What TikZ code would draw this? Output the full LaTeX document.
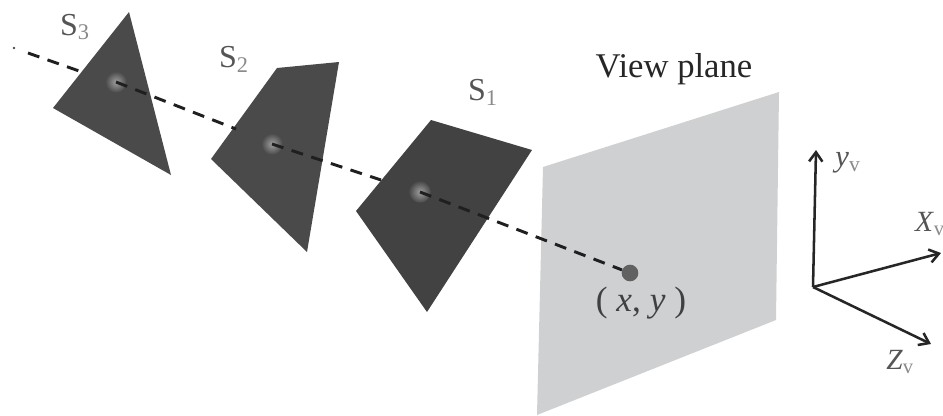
\documentclass[tikz,border=0pt]{standalone}
\usepackage{fontspec}
\setmainfont{Liberation Serif}
\usetikzlibrary{arrows.meta}

\definecolor{facedark}{HTML}{4A4A4A}
\definecolor{facedarker}{HTML}{424242}
\definecolor{planegray}{HTML}{CFD0D1}
\definecolor{labelgray}{HTML}{555555}
\definecolor{subgray}{HTML}{8A8A8A}

\newcommand{\subtxt}[1]{\textsubscript{\textcolor{subgray}{#1}}}

\tikzstyle{face} = [fill=facedark, draw=none]
\tikzstyle{spot} = [circle, minimum width=16pt, inner sep=0pt, inner color=gray!75, outer color=facedark]
\tikzstyle{hit} = [circle, minimum width=12.5pt, inner sep=0pt, fill=black!62]
\tikzstyle{tick} = [circle, minimum width=2.2pt, inner sep=0pt, fill=black!70]
\tikzstyle{ray} = [line width=2.2pt, dash pattern=on 9pt off 6.5pt, black!88]
\tikzstyle{axis} = [line width=1.9pt, black!85, -{Straight Barb[length=7pt,width=10pt]}]
\tikzstyle{lab} = [text=labelgray, inner sep=0pt, font=\fontsize{24}{26}\selectfont]

\begin{document}
\begin{tikzpicture}[x=0.75pt, y=-0.75pt]
\useasboundingbox (0,0) rectangle (943,415);

% surfaces
\fill[face] (129,12) -- (53,108) -- (171,175) -- cycle;
\fill[face] (277,68) -- (339,62) -- (307,252) -- (211,159) -- cycle;
\fill[face, fill=facedarker] (431,120) -- (532,150) -- (427,312) -- (356,211) -- cycle;
\fill[planegray] (543,167) -- (779,92) -- (776,320) -- (537,415) -- cycle;

\node[spot] (spot3) at (116,82) {};
\node[spot] (spot2) at (272,144) {};
\node[spot] (spot1) at (420,192) {};
\node[hit] (point) at (630,273) {};
\node[tick] (dot) at (14,48) {};

% ray
\coordinate (start) at (28,53);
\coordinate (enter3) at (82,72);
\coordinate (enter2) at (236,129);
\coordinate (enter1) at (381,180);
\draw[ray] (start) -- (enter3);
\draw[ray] (spot3.center) -- (enter2);
\draw[ray] (spot2.center) -- (enter1);
\draw[ray] (spot1.center) -- (point);

% axes
\coordinate (origin) at (813,287);
\coordinate (ytip) at (816,150);
\coordinate (xtip) at (941,253);
\coordinate (ztip) at (931,344);
\draw[axis] (origin) -- (ytip);
\draw[axis] (origin) -- (xtip);
\draw[axis] (origin) -- (ztip);

% labels
\node[lab] (s3) at (75,27) {S\subtxt{3}};
\node[lab] (s2) at (234,59) {S\subtxt{2}};
\node[lab] (s1) at (483,92) {S\subtxt{1}};
\node[lab, text=black!85, font=\fontsize{26}{28}\selectfont] (title) at (674,69) {View plane};
\node[lab, text=black!75, font=\fontsize{26.5}{28}\selectfont] (coord) at (641,303) {( \textit{x}, \textit{y} )};
\node[lab, font=\fontsize{23}{25}\selectfont] (ylab) at (848,163) {\textit{y}\subtxt{v}};
\node[lab, font=\fontsize{22}{24}\selectfont] (xlab) at (930,224) {\textit{X}\subtxt{v}};
\node[lab, font=\fontsize{22}{24}\selectfont] (zlab) at (900,362) {\textit{Z}\subtxt{v}};
\end{tikzpicture}
\end{document}
